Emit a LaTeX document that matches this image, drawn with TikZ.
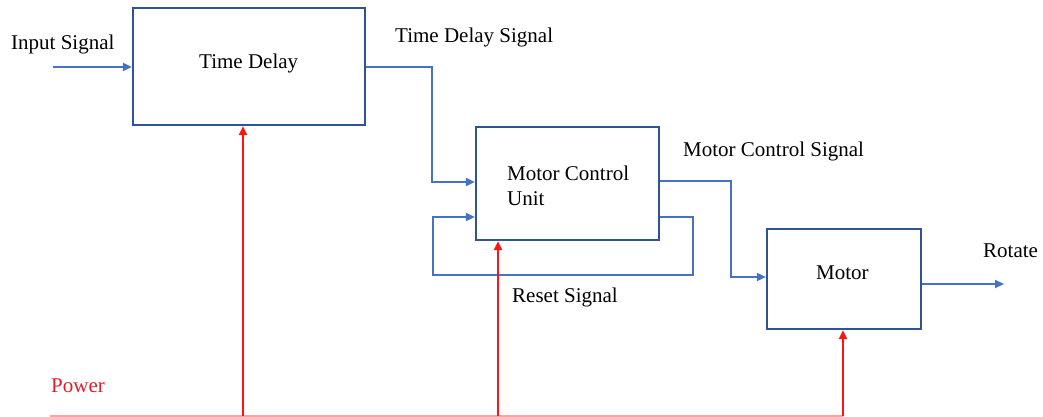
\documentclass[tikz,border=0pt]{standalone}
\usepackage{fontspec}
\setmainfont{Liberation Serif}
\usetikzlibrary{arrows.meta}
\definecolor{boxblue}{RGB}{47,84,150}
\definecolor{sigblue}{RGB}{68,114,196}
\definecolor{pwrred}{RGB}{255,20,20}
\definecolor{pwrtext}{RGB}{225,30,40}
\tikzset{
  blk/.style={draw=boxblue, line width=2.2pt, inner sep=0pt},
  lbl/.style={anchor=base west, inner sep=0pt, font=\fontsize{21}{24}\selectfont},
  sig/.style={draw=sigblue, line width=1.8pt, -{Triangle[length=9pt,width=8pt]}},
  pwr/.style={draw=pwrred, line width=2pt, -{Triangle[length=9pt,width=8pt]}},
  pwrline/.style={draw=pwrred!40, line width=2pt}
}
\begin{document}
\begin{tikzpicture}[x=1pt,y=-1pt]
\useasboundingbox (0,0) rectangle (1043,417);
% boxes
\node[blk, minimum width=232pt, minimum height=117pt] (td) at (249,66.5) {};
\node[blk, minimum width=183pt, minimum height=113pt] (mcu) at (567.5,183.5) {};
\node[blk, minimum width=154pt, minimum height=100pt] (mot) at (844,279) {};
% box texts
\node[lbl] (tdt) at (199,68.5) {Time Delay};
\node[lbl] (mcut) at (507,180.7) {Motor Control};
\node[lbl] (mcut2) at (507,205) {Unit};
\node[lbl] (mott) at (816,279) {Motor};
% labels
\node[lbl] (inl) at (11,50) {Input Signal};
\node[lbl] (tdsl) at (395,42.7) {Time Delay Signal};
\node[lbl] (mcsl) at (683,156) {Motor Control Signal};
\node[lbl] (rsl) at (512,302.7) {Reset Signal};
\node[lbl] (rotl) at (983,257.3) {Rotate};
\node[lbl, text=pwrtext] (pwl) at (51,392.7) {Power};
% coordinates
\coordinate (inS) at (53,67);
\coordinate (rotE) at (1004,284);
\coordinate (pwrL) at (50,416);
\coordinate (pwrR) at (843,416);
% signal connectors
\draw[sig] (inS) -- (inS -| td.west);
\draw[sig] (td.east |- 0,67) -- (432,67) |- (mcu.west |- 0,182);
\draw[sig] (mcu.east |- 0,217) -- (693,217) -- (693,275) -- (433,275) -- (433,217) -- (mcu.west |- 0,217);
\draw[sig] (mcu.east |- 0,181) -- (731,181) |- (mot.west |- 0,277);
\draw[sig] (mot.east |- 0,284) -- (rotE);
% power
\draw[pwrline] (pwrL) -- (pwrR);
\draw[pwr] (pwrL -| 243,0) -- (td.south -| 243,0);
\draw[pwr] (pwrL -| 498,0) -- (mcu.south -| 498,0);
\draw[pwr] (pwrR) -- (mot.south -| pwrR);
\end{tikzpicture}
\end{document}
